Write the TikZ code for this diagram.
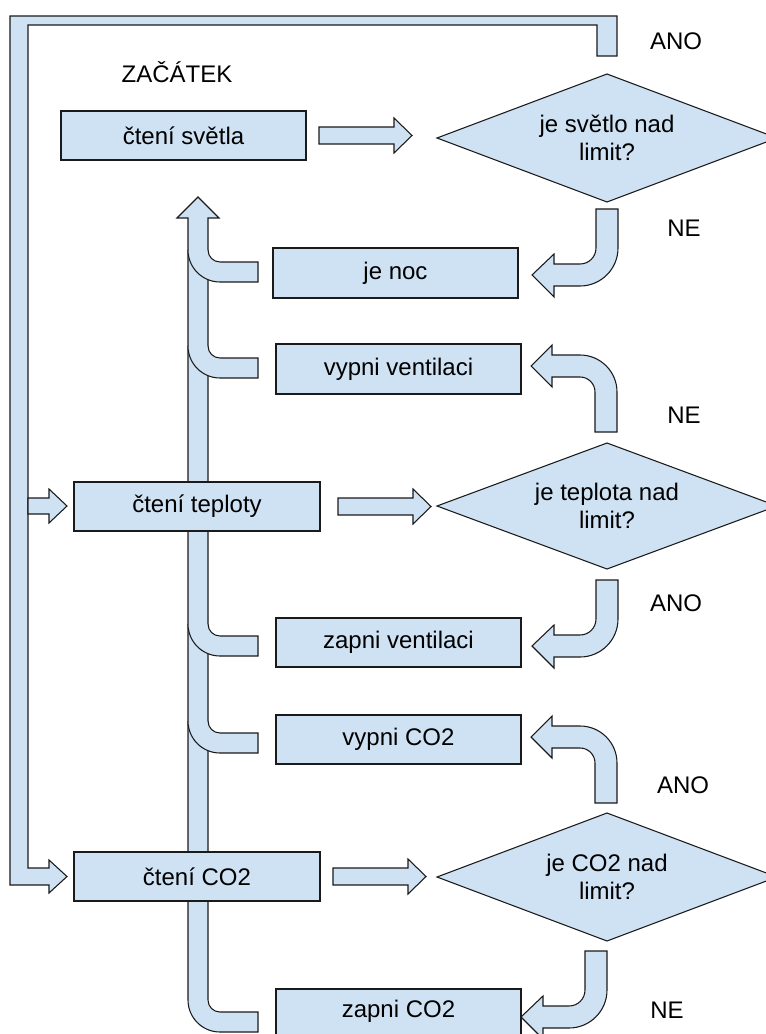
\documentclass[tikz,border=0pt]{standalone}
\usepackage{fontspec}
\setmainfont{Liberation Sans}
\usetikzlibrary{fit}
\definecolor{fillblue}{HTML}{CFE2F3}
\definecolor{edge}{HTML}{1A1A1A}
\begin{document}
\begin{tikzpicture}[x=0.75pt,y=-0.75pt,
  shp/.style={fill=fillblue, draw=edge, line width=0.8pt, line join=miter},
  fillonly/.style={fill=fillblue},
  lineonly/.style={draw=edge, line width=0.8pt},
  box/.style={shp, inner sep=0pt},
  txt/.style={font=\fontsize{18}{20.7}\selectfont, inner sep=0pt, align=center},
  rarr/.pic={\path[shp] (0,-8.5) -- (75,-8.5) -- (75,-17.5) -- (93,0) -- (75,17.5) -- (75,8.5) -- (0,8.5) -- cycle;},
  darr/.pic={\path[shp] (0,0) -- (0,39) arc[start angle=0,end angle=90,radius=16] -- (-42,55) -- (-42,45) -- (-64,66) -- (-42,88) -- (-42,77) -- (-16,77) arc[start angle=90,end angle=0,radius=38] -- (22,0) -- cycle;},
  uarr/.pic={\path[shp] (0,0) -- (0,-40) arc[start angle=0,end angle=-90,radius=15] -- (-43,-55) -- (-43,-45) -- (-64,-66) -- (-43,-87) -- (-43,-77) -- (-15,-77) arc[start angle=-90,end angle=0,radius=37] -- (22,0) -- cycle;},
  branch/.pic={
    \path[fillonly] (-32,0) -- (-12,0) arc[start angle=180,end angle=90,radius=12] -- (38,12) -- (38,32) -- (0,32) arc[start angle=90,end angle=180,radius=32] -- cycle;
    \path[lineonly] (-12,0) arc[start angle=180,end angle=90,radius=12] -- (38,12) -- (38,32) -- (0,32) arc[start angle=90,end angle=180,radius=32];}
]
\useasboundingbox (0,0) rectangle (766,1034);
\clip (0,0) rectangle (766,1034);

% big return loop with arrow into "čtení CO2"
\path[shp] (10,16) -- (617,16) -- (617,56) -- (597,56) -- (597,25) -- (28,25) -- (28,868) -- (49,868) -- (49,860) -- (67,876.5) -- (49,893) -- (49,885) -- (10,885) -- cycle;
% branch into "čtení teploty"
\path[shp] (28,498) -- (49,498) -- (49,489) -- (67,506) -- (49,523) -- (49,514) -- (28,514) -- cycle;

% central upward collector arrow
\path[shp] (258,1012) -- (220,1012) arc[start angle=90,end angle=180,radius=12] -- (208,218) -- (219,218) -- (198,197) -- (177,218) -- (188,218) -- (188,1000) arc[start angle=180,end angle=90,radius=32] -- (258,1032) -- cycle;
\pic at (220,250) {branch};
\pic at (220,346) {branch};
\pic at (220,624) {branch};
\pic at (220,721) {branch};

% boxes
\node[box, fit={(61,111) (306,160)}] (b1) {};
\node[txt] (t1) at (b1.center) {čtení světla};
\node[box, fit={(273,248) (518,298)}] (b2) {};
\node[txt] (t2) at (b2.center) {je noc};
\node[box, fit={(276,344) (521,394)}] (b3) {};
\node[txt] (t3) at (b3.center) {vypni ventilaci};
\node[box, fit={(74,482) (320,531)}] (b4) {};
\node[txt] (t4) at (b4.center) {čtení teploty};
\node[box, fit={(276,618) (521,667)}] (b5) {};
\node[txt] (t5) at (b5.center) {zapni ventilaci};
\node[box, fit={(276,715) (521,764)}] (b6) {};
\node[txt] (t6) at (b6.center) {vypni CO2};
\node[box, fit={(74,852) (320,901)}] (b7) {};
\node[txt] (t7) at (b7.center) {čtení CO2};
\node[box, fit={(276,989) (521,1038)}] (b8) {};
\node[txt] (t8) at ([yshift=1.5pt]b8.center) {zapni CO2};

% box -> diamond arrows
\pic at (319,135.5) {rarr};
\pic at (338,506.5) {rarr};
\pic at (333,876.5) {rarr};

% diamonds
\path[shp] (437,138) -- (607,74) -- (777,138) -- (607,202) -- cycle;
\node[txt] (d1) at (607,138) {je světlo nad\\limit?};
\path[shp] (437,506) -- (607,443) -- (777,506) -- (607,569) -- cycle;
\node[txt] (d2) at (607,506) {je teplota nad\\limit?};
\path[shp] (437,877) -- (607,813) -- (777,877) -- (607,941) -- cycle;
\node[txt] (d3) at (607,877) {je CO2 nad\\limit?};

% curved decision arrows
\pic at (596,209) {darr};
\pic at (595,432) {uarr};
\pic at (596,580) {darr};
\pic at (595,803) {uarr};
\pic at (585,951) {darr};

% labels
\node[txt] (start) at (177,72) {ZAČÁTEK};
\node[txt] (ano1) at (676,41) {ANO};
\node[txt] (ne1) at (684,228) {NE};
\node[txt] (ne2) at (684,415) {NE};
\node[txt] (ano2) at (676,603) {ANO};
\node[txt] (ano3) at (683,785) {ANO};
\node[txt] (ne3) at (667,1010) {NE};
\end{tikzpicture}
\end{document}
